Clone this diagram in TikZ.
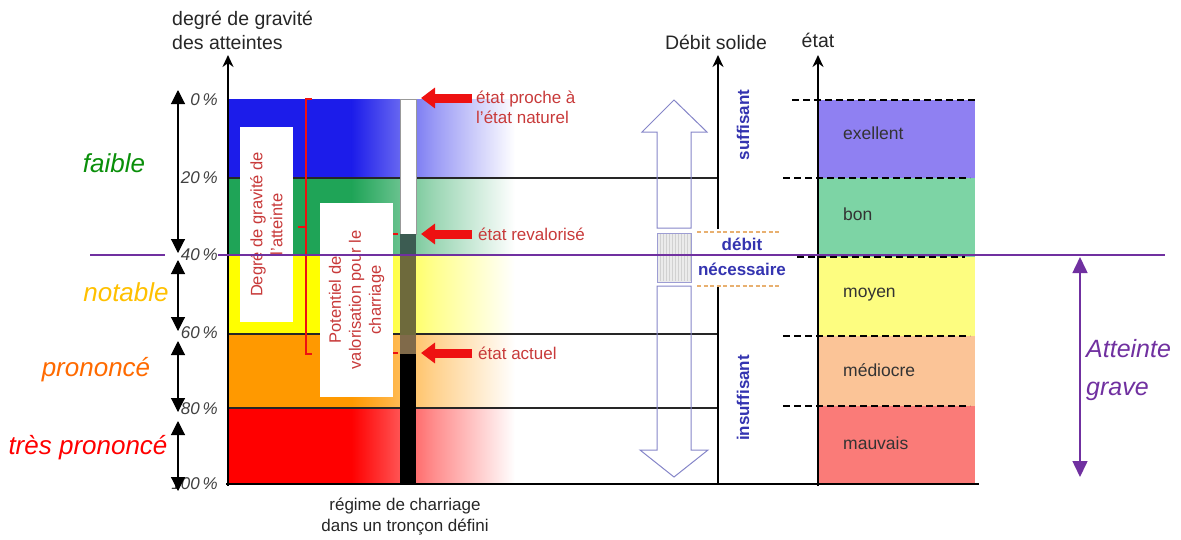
\documentclass[tikz,border=0pt]{standalone}
\usepackage{fontspec}
\setmainfont{Liberation Sans}
\usetikzlibrary{arrows.meta}

\definecolor{bblue}{HTML}{1C1CEA}
\definecolor{bgreen}{HTML}{1FA457}
\definecolor{byellow}{HTML}{FFFF00}
\definecolor{borange}{HTML}{FF9900}
\definecolor{bred}{HTML}{FF0000}
\definecolor{sexc}{HTML}{8F80F2}
\definecolor{sbon}{HTML}{7DD4A5}
\definecolor{smoy}{HTML}{FDFD80}
\definecolor{smed}{HTML}{FBC497}
\definecolor{smau}{HTML}{FA7B78}
\definecolor{purp}{HTML}{7030A0}
\definecolor{txtred}{HTML}{C83A3A}
\definecolor{arrred}{HTML}{EE1111}
\definecolor{dblue}{HTML}{3434B0}
\definecolor{lav}{HTML}{8585C8}
\definecolor{tan}{HTML}{E8B070}
\definecolor{pctgray}{HTML}{404040}
\definecolor{barteal}{HTML}{3C5C52}
\definecolor{barolive}{HTML}{6E6A3C}
\definecolor{barbrown}{HTML}{806A4A}
\definecolor{clgreen}{HTML}{0A8F0A}
\definecolor{clyellow}{HTML}{FFC000}
\definecolor{clorange}{HTML}{FF6A00}

\tikzset{
  axisline/.style={line width=2.6pt, black},
  axistip/.style={-{Stealth[length=12pt,width=11pt]}},
  gridline/.style={line width=1.4pt, black!85},
  levelarrow/.style={line width=1.1pt, {Triangle[width=14pt,length=14pt]}-{Triangle[width=14pt,length=14pt]}},
  pct/.style={font=\fontsize{17}{17}\selectfont\itshape, text=pctgray, anchor=east, inner sep=0pt},
  cls/.style={font=\fontsize{26}{26}\selectfont\itshape, inner sep=0pt},
  statelbl/.style={font=\fontsize{17.5}{17.5}\selectfont, text=black!80, anchor=west, inner sep=0pt},
  redarrow/.style={arrred, line width=9pt, -{Triangle[width=20pt,length=14pt]}},
  redtxt/.style={font=\fontsize{17}{20}\selectfont, text=txtred, anchor=west, inner sep=0pt, align=left},
  whitebox/.style={fill=white},
  boxtxt/.style={font=\fontsize{16.5}{20}\selectfont, text=txtred, rotate=90, align=center, inner sep=0pt},
  brace/.style={arrred, line width=1.6pt},
  dashblack/.style={line width=2pt, dash pattern=on 7pt off 4pt},
  bluebold/.style={font=\fontsize{17}{17}\selectfont\bfseries, text=dblue, inner sep=0pt},
  title/.style={font=\fontsize{19.5}{19.5}\selectfont, text=black!85, inner sep=0pt},
  hollow/.style={draw=lav, line width=1pt},
}

\begin{document}
\begin{tikzpicture}[x=1pt,y=-1pt]
\useasboundingbox (0,0) rectangle (1181,539);

% ---------- graded bands of the left scale ----------
\foreach \c/\ya/\yb in {bblue/99/178, bgreen/178/255, byellow/255/334, borange/334/408, bred/408/484}{
  \fill[\c] (228,\ya) rectangle (352,\yb);
  \shade[left color=\c, right color=white, middle color=\c!45!white] (351.5,\ya) rectangle (515,\yb);
}

% band boundaries
\foreach \y in {178,255,334,408}{
  \draw[gridline] (228,\y) -- (718,\y);
}

% ---------- white boxes with vertical captions ----------
\fill[whitebox] (240,127) rectangle (293,322);
\node[boxtxt] (boxA) at (266.5,224.5) {Degré de gravité de\\l'atteinte};
\fill[whitebox] (320,203) rectangle (393,397);
\node[boxtxt] (boxB) at (356.5,300) {Potentiel de\\valorisation pour le\\charriage};

% brace of the first caption
\draw[brace] (312,99) -- (306,99) -- (306,354) -- (312,354);
\draw[brace] (306,227) -- (298,227);
% ticks of the second caption
\draw[brace] (393,234) -- (398,234);
\draw[brace] (393,353) -- (398,353);

% ---------- bed-load bar ----------
\fill[white] (400,99) rectangle (416,234);
\draw[black!40, line width=0.6pt] (400,99) rectangle (416,234);
\fill[barteal] (400,234) rectangle (416,255);
\fill[barolive] (400,255) rectangle (416,335);
\fill[barbrown] (400,335) rectangle (416,354);
\fill[black] (400,354) rectangle (416,484);

% ---------- red markers ----------
\node[redtxt] (nat) at (476,107.5) {état proche à\\l'état naturel};
\node[redtxt] (rev) at (478,234) {état revalorisé};
\node[redtxt] (act) at (478,353) {état actuel};
\coordinate (natTip) at (421,98);
\coordinate (revTip) at (421,234);
\coordinate (actTip) at (421,353);
\draw[redarrow] (472,98) -- (natTip);
\draw[redarrow] (472,234) -- (revTip);
\draw[redarrow] (472,353) -- (actTip);

% ---------- axes ----------
\node[title, anchor=west, align=left] (gravT) at (172,30.5) {degré de gravité\\[4pt]des atteintes};
\coordinate (gravTop) at (228,55);
\coordinate (gravBot) at (228,486);
\draw[axisline, axistip] (gravBot) -- (gravTop);
\draw[axisline] (226,484) -- (979,484);

\node[title] (debT) at (716,42) {Débit solide};
\coordinate (debTop) at (718,55);
\draw[line width=2.2pt, axistip] (718,229) -- (debTop);
\draw[line width=2.2pt] (718,285) -- (718,484);

\node[title] (etatT) at (818,40) {état};
\coordinate (etatTop) at (818,55);

% ---------- state bands on the right ----------
\fill[sexc] (819,100) rectangle (975,178);
\fill[sbon] (819,178) rectangle (975,257);
\fill[smoy] (819,257) rectangle (975,336);
\fill[smed] (819,336) rectangle (975,406);
\fill[smau] (819,406) rectangle (975,483);
\draw[axisline, axistip] (818,486) -- (etatTop);
\draw[dashblack] (792,100) -- (978,100);
\draw[dashblack] (783,178) -- (970,178);
\draw[dashblack] (797,257) -- (965,257);
\draw[dashblack] (783,336) -- (970,336);
\draw[dashblack] (783,406) -- (970,406);
\node[statelbl] (exc) at (843,133) {exellent};
\node[statelbl] (bon) at (843,214) {bon};
\node[statelbl] (moy) at (843,295) {moyen};
\node[statelbl] (med) at (843,370) {médiocre};
\node[statelbl] (mau) at (843,443) {mauvais};

% ---------- solid discharge ----------
\draw[hollow] (657,228) -- (657,132) -- (642,132) -- (674,100) -- (707,132) -- (691,132) -- (691,228) -- cycle;
\fill[black!8] (657,233) rectangle (691,282);
\foreach \x in {660,663,...,690}{
  \draw[black!18, line width=0.4pt] (\x,234) -- (\x,281);
}
\draw[draw=lav!80, line width=0.8pt] (657,233) rectangle (691,282);
\draw[hollow] (657,286) -- (657,450) -- (640,450) -- (674,477) -- (708,450) -- (691,450) -- (691,286) -- cycle;
\draw[tan, line width=1.5pt, dash pattern=on 4pt off 2.5pt] (697,232) -- (780,232);
\draw[tan, line width=1.5pt, dash pattern=on 4pt off 2.5pt] (697,286) -- (780,286);
\node[bluebold] (deb1) at (742,244) {débit};
\node[bluebold] (deb2) at (742,269) {nécessaire};
\node[bluebold, rotate=90] (suff) at (743,125) {suffisant};
\node[bluebold, rotate=90] (insuff) at (743,398) {insuffisant};

% ---------- percentages and classes ----------
\node[pct] (p0) at (218,100) {0\,\%};
\node[pct] (p20) at (218,178) {20\,\%};
\node[pct] (p40) at (218,255) {40\,\%};
\node[pct] (p60) at (218,333) {60\,\%};
\node[pct] (p80) at (218,409) {80\,\%};
\node[pct] (p100) at (218,484) {100\,\%};

\draw[levelarrow] (178,90) -- (178,253);
\draw[levelarrow] (178,260) -- (178,331);
\draw[levelarrow] (178,341) -- (178,412);
\draw[levelarrow] (178,421) -- (178,491);

\node[cls, text=clgreen] (faible) at (114,163) {faible};
\node[cls, text=clyellow] (notable) at (126,292) {notable};
\node[cls, text=clorange] (prononce) at (96,370) {prononcé};
\node[cls, text=bred] (tres) at (88,448) {très prononcé};

% ---------- threshold of serious impairment ----------
\draw[purp, line width=2pt] (90,255) -- (165,255);
\draw[purp, line width=2pt] (218,255) -- (1165,255);
\draw[purp, line width=1.5pt, {Triangle[width=15pt,length=16pt]}-{Triangle[width=15pt,length=16pt]}] (1080,257) -- (1080,477);
\node[font=\fontsize{25}{38}\selectfont\itshape, text=purp, anchor=west, align=left, inner sep=0pt] (grave) at (1086,370) {Atteinte\\grave};

% ---------- caption of the bar ----------
\node[font=\fontsize{17}{21}\selectfont, text=black!85, align=center, inner sep=0pt] (regime) at (405,516.5) {régime de charriage\\dans un tronçon défini};
\end{tikzpicture}
\end{document}
